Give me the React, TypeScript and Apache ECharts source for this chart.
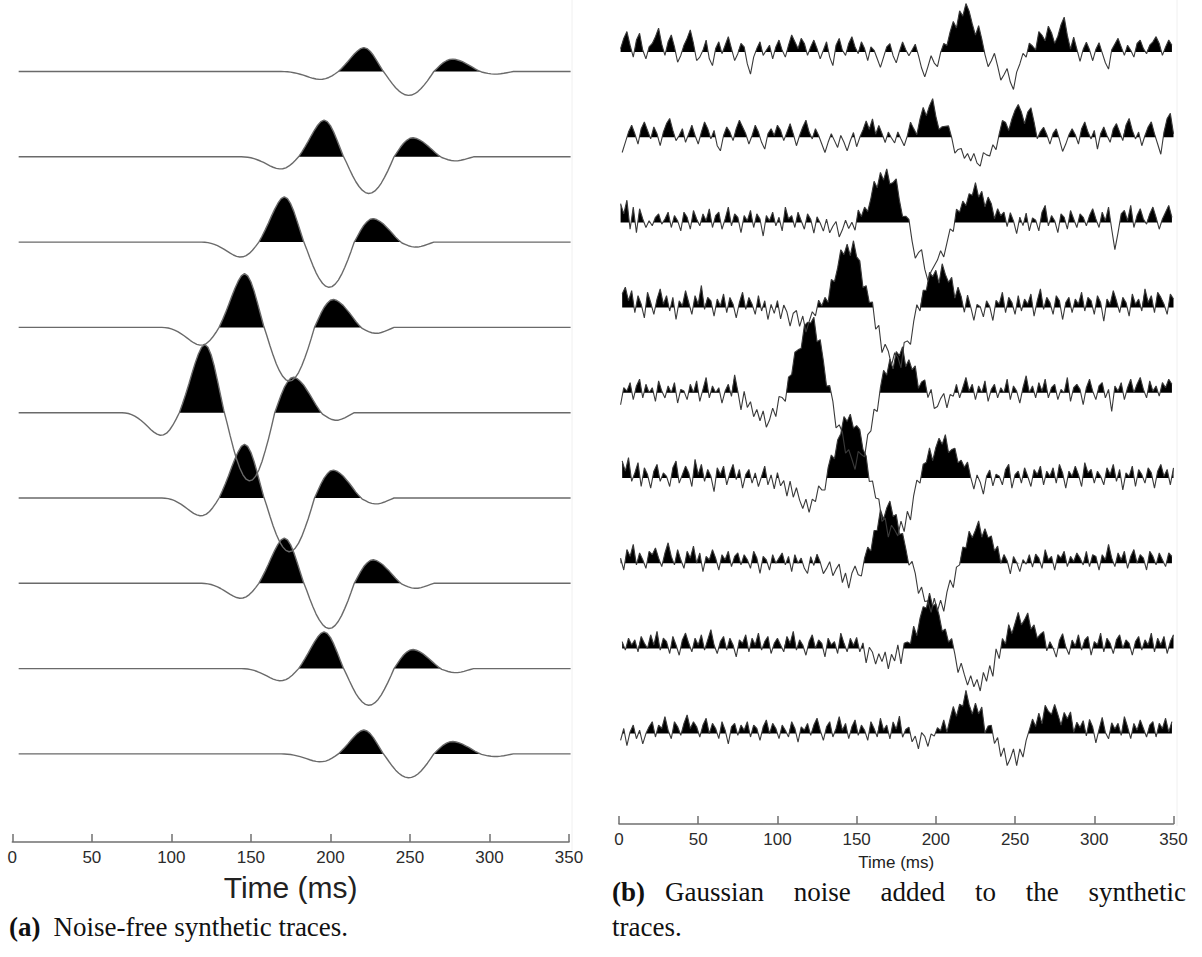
import React, { useEffect, useRef } from "react";
import * as echarts from "echarts";

// ---------------- data ----------------
const TIME_TICKS = [0, 50, 100, 150, 200, 250, 300, 350];

// main-peak time (ms) and peak amplitude (fraction of trace spacing) of each trace, top to bottom
const PEAK_TIMES_MS = [221, 196, 171, 146, 121, 146, 171, 196, 221];
const PEAK_AMPLITUDES = [0.28, 0.43, 0.53, 0.63, 0.8, 0.63, 0.53, 0.43, 0.28];

// wavelet: offset from main peak (ms) -> normalised amplitude
const WAVELET_TAU_MS = [
  -52, -50, -48, -46, -44, -42, -40, -38, -36, -34, -32, -30, -28, -26, -24, -22, -20, -18, -16,
  -14, -12, -10, -8, -6, -4, -2, 0, 2, 4, 6, 8, 10, 12, 14, 16, 18, 20, 22, 24, 26, 28, 30, 32,
  34, 36, 38, 40, 42, 44, 46, 48, 50, 52, 54, 56, 58, 60, 62, 64, 66, 68, 70, 72, 74, 76, 78, 80,
  82, 84, 86, 88, 90, 92, 94,
];
const WAVELET_VALUES = [
  0, -0.004, -0.012, -0.027, -0.05, -0.08, -0.115, -0.155, -0.2, -0.245, -0.285, -0.315, -0.33,
  -0.325, -0.3, -0.25, -0.18, -0.095, 0,
  0.13, 0.27, 0.42, 0.58, 0.73, 0.86, 0.96, 1.0, 0.96, 0.85, 0.68, 0.47, 0.25, 0.03,
  -0.15, -0.34, -0.52, -0.68, -0.81, -0.91, -0.975, -1.0, -0.985, -0.93, -0.84, -0.715, -0.56,
  -0.39, -0.2, 0,
  0.13, 0.26, 0.37, 0.45, 0.505, 0.52, 0.5, 0.46, 0.41, 0.34, 0.27, 0.19, 0.11, 0.04,
  -0.02, -0.05, -0.08, -0.1, -0.11, -0.11, -0.095, -0.075, -0.05, -0.025, 0,
];

// noise on the noisy traces (hundredths of the trace spacing), one value per 2 ms,
// sampled on the same 2 ms grid as the trace's wavelet
const NOISE_1 = [
  4, 16, 24, 8, -6, 14, 22, 2, -8, 6, 10, 18, 28, 9, -4, 12, 20, 6, -12, -4, 8, 16, 26, 10, -10,
  -6, 2, 14, -8, -16, 4, 12, -2, 8, 18, 4, -10, -2, 10, 6, -14, -26, -6, 4, 12, -4, 2, 8, -8, 6,
  14, 2, -6, 8, 20, 12, 4, 16, 10, -4, 6, 14, 4, -8, 2, 12, -6, -16, 8, 16, 2, -4, 10, 18, 6,
  -2, 12, 4, -10, 6, 2, -8, -18, -6, 6, 10, -4, -12, 2, 14, 6, 0, 8, 16, 4, -10, -20, -8, 4, -6,
  -12, 2, 10, 4, 16, 24, 12, 28, 18, 30, 20, 6, -4, 12, 2, -10, -18, -6, 8, -2, -14, -4, 6, -8, -16,
  4, 12, 22, 14, 26, 18, 8, 24, 16, 6, 20, 10, -4, 4, 18, 28, 8, -6, 10, -2, -14, 2, 12, 4, -8,
  6, 14, 2, -10, -18, 4, 10, 16, 6, -4, 8, 2, -6, 10, 14, 4, -2, 8, 12, 18, 10, -4, 6, 14, 8,
];
const NOISE_2 = [
  -18, -6, 6, 14, 4, -8, 10, 18, 8, -2, 12, 4, -10, 6, 16, 22, 8, -4, 2, 10, -6, 4, 14, 2, -8,
  6, 18, 10, -2, 8, -10, -16, 2, 12, 6, -4, 10, 20, 12, 4, -8, 2, 14, 6, -6, -14, 4, 10, 2, 14,
  8, -4, 6, 16, 4, -10, 2, 12, 20, 6, -2, 10, 2, -8, -18, -6, 4, -4, -12, 2, -6, -16, -4, 6, -10,
  2, 12, 24, 16, 30, 14, 26, 18, 8, 20, 12, 4, 14, 2, -10, -4, 6, -8, -22, -10, -2, -16, -6, 4, -12,
  -20, -8, 2, 12, 6, -4, 8, 16, 10, 20, 14, 24, 12, 6, 18, 10, 2, 8, -6, 4, 14, 6, -8, 2, 10,
  16, 8, -4, 12, 20, 6, -10, 2, 10, 4, -6, 8, 14, 2, -12, -4, 6, 12, 4, -8, 10, 18, 6, -2, 8,
  -14, 4, 12, 2, -6, 10, 16, 6, -4, 14, 22, 8, -2, 6, -10, 2, 12, 18, 4, -8, -20, 6, 22, 28, 4,
];
const NOISE_3 = [
  22, 10, 26, -8, 18, -12, 16, 4, -6, 2, -4, 6, 10, -2, 4, 12, -6, 8, 2, -10, 12, 6, -8, 14, 4,
  -4, 10, 2, 16, -6, 8, 12, -8, 4, 18, -4, 10, 6, -12, 8, 2, 14, -6, 10, 4, -16, 8, 2, 12, -4,
  6, -10, 18, 4, 8, -6, 12, 2, -8, 10, 4, -12, 8, 2, -6, 10, -4, 6, 14, -2, 8, 20, 10, 16, 4,
  24, 12, 18, 6, 14, 26, 10, 20, 4, 12, -8, -4, 6, -10, -18, -6, 2, -14, -24, -8, 4, -12, -20, -6, 2,
  8, 16, 4, 14, 22, 10, 26, 12, 18, 6, 14, 8, 20, 2, 10, -6, 8, 4, -10, 6, 2, 10, -4, 14, 6,
  -8, 12, 2, 16, -6, 8, 4, -10, 12, 20, -4, 8, 2, -12, 10, 6, -8, 14, 4, -6, 10, 6, -4, 8, 16,
  4, -6, 12, 2, 18, -8, -32, -12, 10, 14, 2, 20, -6, 8, 16, 4, -2, 10, 18, 6, -8, 4, 12, 20, 6,
];
const NOISE_4 = [
  16, 24, 8, 20, -6, 14, 4, -12, 18, 6, -8, 10, 22, 4, 14, -4, 12, -14, 8, 2, 20, 6, -8, 14, 4,
  26, -2, 12, 8, -10, 10, 2, 16, -6, 12, 4, -12, 6, 18, -2, 12, 4, -8, 14, -4, 8, -14, 4, -6, 10,
  -10, 8, 2, -12, 6, 12, -4, 10, -8, 4, 14, 6, 20, 8, 12, -2, 16, 4, 10, 22, 8, 14, -2, 18, 6,
  12, -6, 10, 4, 16, -4, 12, -10, 8, 6, -6, 10, 4, -12, 12, 6, -8, 8, 16, -4, 12, 4, 18, 8, 12,
  -4, 20, 10, 4, 14, -6, 12, 6, -8, 16, 4, -10, 10, 8, -4, 14, 6, -12, 10, 4, 18, -6, 12, 6, -8,
  14, -4, 10, 4, 16, -10, 8, 22, -2, 12, 6, -8, 14, 8, -14, 6, 12, -6, 10, 4, 18, -4, 12, 8, -8,
  14, 6, -16, 10, 4, 20, 8, -6, 12, 6, -10, 16, 4, 10, -4, 22, 6, 14, -6, 18, 12, 4, -8, 16, 10,
];
const NOISE_5 = [
  -14, 6, 2, 12, -8, 8, 16, -6, 10, 0, 6, -10, 14, 2, -6, 8, 0, 12, -12, 4, 2, -8, 10, 0, 14,
  -10, 4, 18, -6, 8, 0, 6, -12, 2, 10, -4, 22, 4, -16, 8, -8, 2, -12, 0, -10, 4, -14, -6, 6, -8,
  10, 2, -10, 8, 0, 14, 4, -6, 10, 6, 2, 12, -8, 8, 0, -12, 6, 2, -14, 4, 8, -6, 6, 0, -10,
  10, 2, -8, 8, 0, 12, -6, 6, 16, 0, 10, -8, 8, 2, 14, -6, 6, 0, 10, -10, 4, 12, -4, 8, -12,
  -8, 2, 8, -10, 4, 0, 12, -6, 6, 18, 2, 10, -8, 8, 0, 14, -10, 4, 10, -6, 6, 0, 16, -8, 8,
  2, -12, 6, 20, 0, 8, -6, 12, 2, 16, -6, 6, 10, -8, 4, 0, 18, -10, 6, 10, 4, -14, 6, 16, 2,
  -8, 8, 12, -6, 4, -22, 8, 2, 12, -8, 6, 16, 0, 10, 18, 4, -6, 14, 2, 8, -4, 12, 6, 16, 10,
];
const NOISE_6 = [
  20, 8, 24, -4, 6, 18, -10, 12, 4, -12, 8, 16, -4, 6, 2, -10, 12, 20, -6, 4, 14, 6, -10, 22, 4,
  16, -4, 10, 2, -16, 12, 4, 14, -8, 6, 16, -2, 10, -12, 4, 10, -6, 6, -10, 2, 14, -8, 4, -12, 8,
  -6, 2, -14, 6, -10, 4, -8, -16, -4, -20, -6, -12, 2, -8, -14, 4, 10, -4, 8, 6, 18, 6, 12, -2, 8,
  14, 4, 10, -6, 6, -2, 8, -8, 4, -12, 6, 2, -6, 8, -10, 6, -14, 4, 10, -6, 8, 2, 12, -8, 4,
  14, 8, 22, 4, 12, 18, 6, 14, 10, 20, 4, -8, 10, 2, -12, 8, 14, -6, 6, 2, -8, 10, 16, -12, 4,
  8, -6, 12, 2, -10, 10, 4, 14, -8, 8, 2, 12, -6, 16, 6, -12, 8, 2, 14, 4, -10, 18, 6, 10, -6,
  8, 2, -8, 12, 4, 16, -4, 10, -14, 6, 2, 14, -10, 10, 4, -6, 12, 6, -12, 8, 16, 2, 10, -8, 12,
];
const NOISE_7 = [
  6, -8, 16, 8, 22, -2, 12, 4, -6, 14, 10, 18, 6, -4, 12, 24, 8, -2, 16, 4, -6, 14, 6, 20, 0,
  12, -10, 8, 4, 16, 6, -8, 10, 4, 14, -4, 8, 12, -2, 10, 4, -6, 14, 6, -12, 8, 4, -8, 10, 0,
  6, 12, -2, 8, -10, 10, 0, 6, -6, -12, 8, -2, 12, 4, -8, 0, 10, -4, 6, 14, -6, 6, -12, 4, 10,
  -4, -10, 6, 12, 0, 16, 8, 24, 6, 14, 20, 4, 12, -2, 10, 4, -4, 10, 6, -8, 8, -2, 4, -6, 12,
  -4, 6, -12, 4, 10, -8, 6, -2, 12, 4, 18, 6, 12, 22, 4, 16, 8, 14, 0, 10, -6, 8, 4, -10, 12,
  6, -4, 10, 4, 14, -2, 12, 6, -6, 16, 4, 8, -8, 10, 6, 14, -4, 8, 2, 12, 6, -2, 14, -4, 10,
  8, -8, 10, 4, 22, 6, -4, 12, 4, 14, -6, 8, 16, 0, 10, 6, -8, 14, 8, -2, 12, 4, -4, 12, 8,
];
const NOISE_8 = [
  8, -2, 12, 4, 10, -4, 14, 6, 0, 16, 4, 20, -2, 12, 8, -6, 14, 4, -8, 10, 18, 6, -4, 12, 4,
  16, -2, 10, 22, 4, -6, 8, 14, -2, 12, 4, -10, 10, 6, 16, -4, 12, 4, 18, -2, 8, 14, -6, 6, 12,
  4, -4, 14, 6, 20, -2, 10, 4, -8, 8, 16, 0, 10, 6, -10, 12, 4, 8, -6, 18, 6, -4, 12, 4, 14,
  -2, 10, -12, 8, 4, -8, 6, -2, 10, -10, 6, -4, 12, -14, 6, 2, -6, 8, -10, 4, 12, 6, 22, 8, 16,
  10, 0, 12, 6, 18, 8, -6, 12, 4, -4, 10, -2, 6, -10, 8, -8, 4, -16, 8, -12, 6, -6, 12, -2, 8,
  20, 6, 14, 24, 8, 16, 4, 12, 18, -2, 10, 4, -6, 14, 22, 6, -4, 12, 4, 16, -2, 10, 14, -8, 8,
  4, 18, -4, 12, 6, -6, 10, 16, 0, 10, 6, -8, 8, 14, -2, 10, 4, 18, -4, 12, 4, 14, -6, 8, 16,
];
const NOISE_9 = [
  -8, 6, -14, 2, 10, -6, 4, -12, 0, 8, 14, -4, 10, 6, 20, 4, -6, 14, 8, -2, 12, 22, 6, 14, 8,
  -4, 10, 18, 0, 12, 6, -6, 14, 4, -12, 8, 12, -2, 10, 4, 14, -4, 10, 6, -8, 8, 16, 0, 12, 6,
  -6, 10, 4, -4, 14, 6, -10, 8, 4, 12, -2, 10, 18, 4, -8, 8, 14, -4, 6, 20, 4, 12, -6, 8, 16,
  -2, 10, 4, -8, 14, 6, -4, 18, 4, 10, -6, 14, 6, 22, -2, 8, 12, -4, 4, -10, 10, 6, -6, 8, 4,
  12, 6, 16, -2, 10, 20, 4, 14, 8, 24, 6, -4, 12, 4, 18, -6, 8, 14, -2, 10, -8, 6, -12, -2, 10,
  -10, 8, -4, 12, 20, 28, 14, 24, 8, 26, 16, 10, 20, 8, -4, 12, 6, 16, -6, 8, 4, 14, -2, 18, 10,
  -8, 8, 22, 4, -4, 14, 6, 12, -2, 20, 8, -6, 12, 4, 16, 6, -4, 10, 14, -4, 12, 6, 18, 2, 14,
];
const NOISE_TRACES = [NOISE_1, NOISE_2, NOISE_3, NOISE_4, NOISE_5, NOISE_6, NOISE_7, NOISE_8, NOISE_9];

const AXIS_TITLE = "Time (ms)";
const CAPTION_A_LABEL = "(a)";
const CAPTION_A_TEXT = "Noise-free synthetic traces.";
const CAPTION_B_LABEL = "(b)";
const CAPTION_B_WORDS = ["Gaussian", "noise", "added", "to", "the", "synthetic"];
const CAPTION_B_LINE2 = "traces.";

// ---------------- layout ----------------
const PAGE_W = 1202;
const PAGE_H = 957;
const LEFT = { x0: 12.3, x1: 569, axisY: 842, firstBase: 71.5, spacing: 85.3 };
const RIGHT = { x0: 619, x1: 1173.5, axisY: 824, firstBase: 52, spacing: 85.2 };
const SANS = '"Liberation Sans", Arial, Helvetica, sans-serif';
const SERIF = '"Liberation Serif", "Times New Roman", serif';

function waveletAt(tau: number): number {
  const i = WAVELET_TAU_MS.indexOf(tau);
  return i < 0 ? 0 : WAVELET_VALUES[i];
}

function measure(text: string, font: string): number {
  const c = document.createElement("canvas").getContext("2d");
  if (!c) return text.length * 12;
  c.font = font;
  return c.measureText(text).width;
}

function yRange(p: typeof LEFT) {
  const min = 8 - (p.axisY - p.firstBase) / p.spacing;
  const max = min + p.axisY / p.spacing;
  return { min, max };
}

// outline of the positive (filled) part of a trace: samples clipped at the baseline,
// plus the points where the drawn line meets the baseline so the fill follows the line
function positiveOutline(data: number[][], base: number): number[][] {
  const out: number[][] = [];
  for (let i = 0; i < data.length; i++) {
    const [t, y] = data[i];
    if (i > 0) {
      const [tp, yp] = data[i - 1];
      if ((yp - base) * (y - base) < 0) {
        const f = (base - yp) / (y - yp);
        out.push([tp + f * (t - tp), base]);
      }
    }
    out.push([t, Math.max(y, base)]);
  }
  return out;
}

function buildOption() {
  const series: any[] = [];

  const addTrace = (panel: number, k: number, pts: number[][], color: string, width: number) => {
    const base = 8 - k;
    const data = pts.map(([t, v]) => [t, base + v]);
    series.push({
      type: "line",
      xAxisIndex: panel,
      yAxisIndex: panel,
      data: positiveOutline(data, base),
      symbol: "none",
      silent: true,
      z: 1,
      lineStyle: { width: 0, opacity: 0 },
      areaStyle: { origin: base, opacity: 1, color: "#000000" },
    });
    series.push({
      type: "line",
      xAxisIndex: panel,
      yAxisIndex: panel,
      data,
      symbol: "none",
      silent: true,
      z: 2,
      lineStyle: { color, width },
    });
  };

  // left: noise-free traces, the wavelet placed at each trace's peak time
  for (let k = 0; k < 9; k++) {
    const p = PEAK_TIMES_MS[k];
    const pts: number[][] = [[4, 0]];
    WAVELET_TAU_MS.forEach((tau, i) => pts.push([p + tau, PEAK_AMPLITUDES[k] * WAVELET_VALUES[i]]));
    pts.push([351, 0]);
    addTrace(0, k, pts, "#6a6a6a", 1.4);
  }
  // right: the same wavelets plus the noise
  for (let k = 0; k < 9; k++) {
    const noise = NOISE_TRACES[k];
    const t0 = PEAK_TIMES_MS[k] % 2 === 0 ? 2 : 1;
    const pts: number[][] = noise.map((n, i) => {
      const t = t0 + 2 * i;
      return [t, PEAK_AMPLITUDES[k] * waveletAt(t - PEAK_TIMES_MS[k]) + n / 100];
    });
    addTrace(1, k, pts, "#3a3a3a", 1.1);
  }

  const xAxis = (gi: number) => ({
    type: "value",
    gridIndex: gi,
    min: 0,
    max: 350,
    interval: 50,
    axisLine: { show: true, onZero: false, lineStyle: { color: "#707070", width: 1.5 } },
    axisTick: { show: true, inside: true, length: 8, lineStyle: { color: "#707070", width: 1.5 } },
    axisLabel: {
      color: "#2b2b2b",
      fontSize: 17,
      fontFamily: SANS,
      margin: 7,
      formatter: (v: number) => (TIME_TICKS.indexOf(v) >= 0 ? String(v) : ""),
    },
    splitLine: { show: false },
  });
  const lr = yRange(LEFT);
  const rr = yRange(RIGHT);

  const capSize = 27;
  const capFont = `${capSize}px ${SERIF}`;
  const capBold = `bold ${capSize}px ${SERIF}`;
  const graphics: any[] = [];
  const txt = (text: string, x: number, y: number, font: string, align = "left", fill = "#111") => ({
    type: "text",
    x,
    y,
    silent: true,
    style: { text, font, fill, textAlign: align, textVerticalAlign: "middle" },
  });
  const capY2 = 927;
  const capY1 = 892;
  graphics.push(txt(AXIS_TITLE, (LEFT.x0 + LEFT.x1) / 2, 887, `30px ${SANS}`, "center", "#222"));
  graphics.push(txt(AXIS_TITLE, (RIGHT.x0 + RIGHT.x1) / 2, 862, `17px ${SANS}`, "center", "#222"));

  const aW = measure(CAPTION_A_LABEL, capBold);
  graphics.push(txt(CAPTION_A_LABEL, 9, capY2, capBold));
  graphics.push(txt(CAPTION_A_TEXT, 9 + aW + 13, capY2, capFont));

  const bW = measure(CAPTION_B_LABEL, capBold);
  graphics.push(txt(CAPTION_B_LABEL, 612, capY1, capBold));
  const startX = 612 + bW + 20;
  const endX = 1186;
  const widths = CAPTION_B_WORDS.map((w) => measure(w, capFont));
  const total = widths.reduce((a, b) => a + b, 0);
  const gap = (endX - startX - total) / (CAPTION_B_WORDS.length - 1);
  let cx = startX;
  CAPTION_B_WORDS.forEach((w, i) => {
    graphics.push(txt(w, cx, capY1, capFont));
    cx += widths[i] + gap;
  });
  graphics.push(txt(CAPTION_B_LINE2, 612, capY2, capFont));

  graphics.push({ type: "line", silent: true, shape: { x1: 572, y1: 0, x2: 572, y2: 850 }, style: { stroke: "#f0f0f0", lineWidth: 1 } });
  graphics.push({ type: "line", silent: true, shape: { x1: 1177, y1: 0, x2: 1177, y2: 826 }, style: { stroke: "#f0f0f0", lineWidth: 1 } });

  return {
    animation: false,
    backgroundColor: "#ffffff",
    grid: [
      { left: LEFT.x0, top: 0, width: LEFT.x1 - LEFT.x0, height: LEFT.axisY },
      { left: RIGHT.x0, top: 0, width: RIGHT.x1 - RIGHT.x0, height: RIGHT.axisY },
    ],
    xAxis: [xAxis(0), xAxis(1)],
    yAxis: [
      { type: "value", gridIndex: 0, min: lr.min, max: lr.max, show: false },
      { type: "value", gridIndex: 1, min: rr.min, max: rr.max, show: false },
    ],
    series,
    graphic: graphics,
  };
}

export default function App() {
  const ref = useRef<HTMLDivElement>(null);
  useEffect(() => {
    if (!ref.current) return;
    const chart = echarts.init(ref.current, undefined, { renderer: "svg" });
    chart.setOption(buildOption() as any);
    return () => chart.dispose();
  }, []);
  return (
    <div
      ref={ref}
      style={{ position: "absolute", left: 0, top: 0, width: PAGE_W, height: PAGE_H, background: "#fff" }}
    />
  );
}
